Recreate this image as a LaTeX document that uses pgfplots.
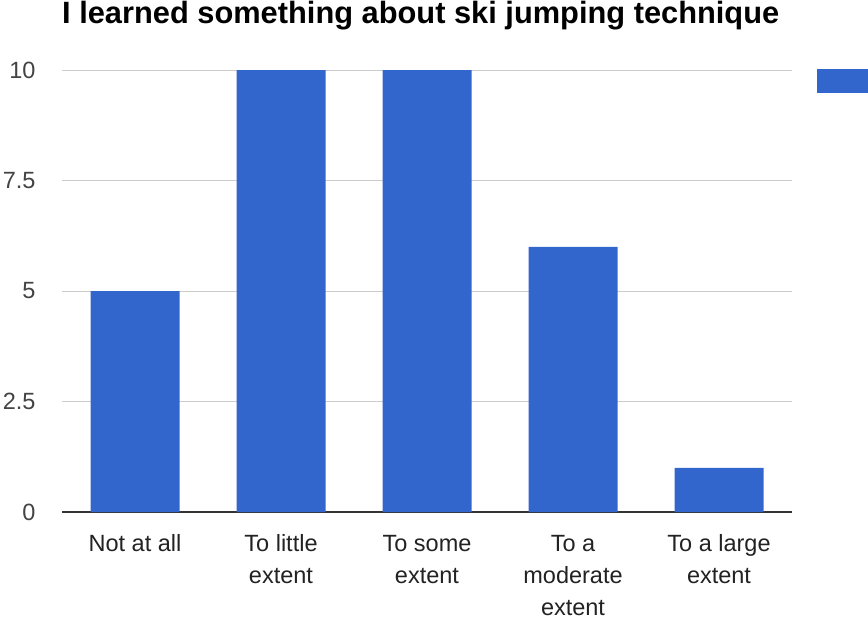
\documentclass[border=0pt]{standalone}
\usepackage{pgfplots}
\pgfplotsset{compat=1.18}
\usepackage{fontspec}
\setmainfont{Liberation Sans}
\definecolor{barblue}{HTML}{3366CC}
\definecolor{gridgray}{HTML}{CCCCCC}
\definecolor{axisdark}{HTML}{333333}
\definecolor{labelgray}{HTML}{222222}
\begin{document}
\begin{tikzpicture}[x=1bp,y=1bp]
\useasboundingbox (0,0) rectangle (868,-618);
\node[anchor=base west, inner sep=0pt, font=\bfseries\fontsize{30.8bp}{36bp}\selectfont] at (62,-24) {I learned something about ski jumping technique};
\begin{axis}[
  at={(62bp,-512bp)}, anchor=south west,
  scale only axis, width=730bp, height=442bp,
  xmin=-0.5, xmax=4.5, ymin=0, ymax=10,
  axis line style={draw=none},
  major tick length=0pt,
  ytick={2.5,5,7.5,10}, yticklabels={2.5,5,7.5,10},
  extra y ticks={0}, extra y tick labels={0},
  extra y tick style={grid style={color=axisdark, line width=1.6bp}},
  ymajorgrids, grid style={color=gridgray, line width=1bp},
  yticklabel style={font=\fontsize{23.5bp}{28bp}\selectfont, text=labelgray!85, xshift=-23bp},
  /pgf/number format/assume math mode=true,
  xtick={0,1,2,3,4},
  xticklabels={\strut Not at all, \strut To little\\extent, \strut To some\\extent, \strut To a\\moderate\\extent, \strut To a large\\extent},
  xticklabel style={font=\fontsize{23.5bp}{32bp}\selectfont, align=center, text=labelgray, anchor=north, yshift=-14bp},
  legend style={at={(1,1)}, anchor=north west, xshift=25bp, yshift=1bp, draw=none, fill=none, inner sep=0pt, outer sep=0pt},
  legend image code/.code={\fill[barblue] (0bp,-12bp) rectangle (51bp,12bp);},
]
\addplot[ybar, bar width=89bp, bar shift=0pt, fill=barblue, draw=none]
  coordinates {(0,5) (1,10) (2,10) (3,6) (4,1)};
\addlegendentry{}
\end{axis}
\end{tikzpicture}
\end{document}
